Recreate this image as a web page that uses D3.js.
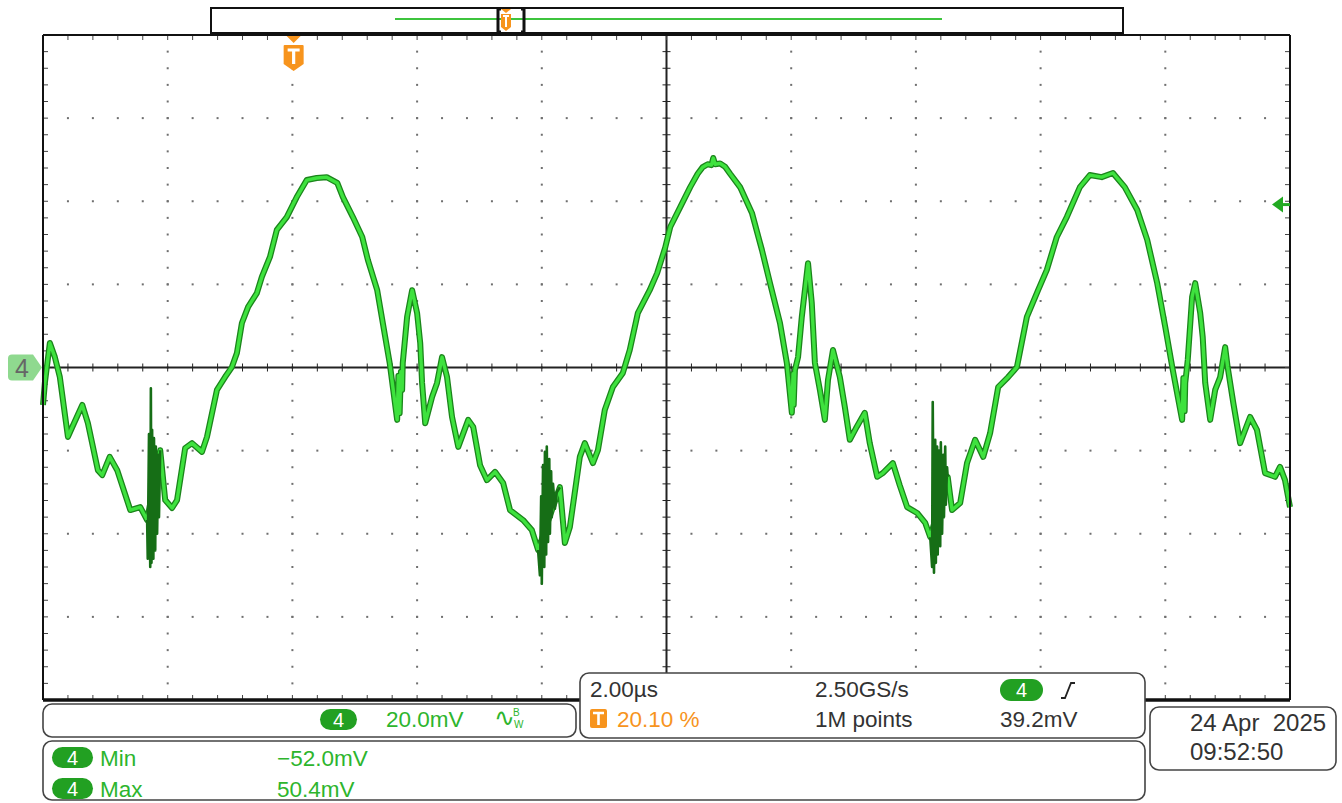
<!DOCTYPE html>
<html>
<head>
<meta charset="utf-8">
<script src="https://cdn.jsdelivr.net/npm/d3@7"></script>
<style>
  html, body { margin: 0; padding: 0; background: #fff; }
  svg { display: block; font-family: "Liberation Sans", Arial, sans-serif; }
</style>
</head>
<body>
<svg id="scope" width="1342" height="803"></svg>
<script>
// ---- Channel 4 acquisition (time in µs across the screen, amplitude in mV) ----
const traceTime = [
  0.00, 0.03, 0.11, 0.19, 0.27, 0.40, 0.47, 0.63, 0.72, 0.88, 0.95, 1.07, 1.19, 1.40, 1.56, 1.67,
  1.88, 1.96, 2.07, 2.15, 2.28, 2.39, 2.55, 2.63, 2.79, 2.92, 3.03, 3.11, 3.19, 3.29, 3.43, 3.51,
  3.64, 3.75, 3.91, 4.07, 4.23, 4.39, 4.55, 4.72, 4.81, 4.97, 5.12, 5.21, 5.36, 5.45, 5.56, 5.68,
  5.70, 5.72, 5.74, 5.76, 5.77, 5.84, 5.92, 6.00, 6.05, 6.08, 6.13, 6.24, 6.32, 6.40, 6.48, 6.56,
  6.66, 6.82, 6.90, 7.01, 7.12, 7.25, 7.38, 7.49, 7.70, 7.84, 7.94,
  8.29, 8.37, 8.45, 8.61, 8.69, 8.82, 8.90, 9.01, 9.14, 9.30, 9.41, 9.54, 9.73, 9.85, 9.98, 10.06,
  10.22, 10.38, 10.50, 10.58, 10.66, 10.72, 10.75, 10.78, 10.86, 10.94, 11.02, 11.18, 11.37, 11.53,
  11.66, 11.82, 11.93, 12.01, 12.03,
  12.04, 12.06, 12.11, 12.17, 12.27, 12.33, 12.38, 12.46, 12.54, 12.59, 12.67, 12.78, 12.86, 12.94,
  13.05, 13.18, 13.26, 13.38, 13.47, 13.63, 13.74, 13.86, 14.02, 14.15, 14.23,
  14.51, 14.58, 14.71, 14.82, 14.95, 15.08, 15.19, 15.32, 15.48, 15.62, 15.78, 15.96, 16.10, 16.26,
  16.42, 16.63, 16.79, 16.98, 17.16, 17.35, 17.55, 17.71, 17.87, 18.00, 18.12, 18.27, 18.29, 18.31,
  18.32, 18.36, 18.43, 18.48, 18.56, 18.60, 18.64, 18.72, 18.80, 18.88, 18.96, 19.00, 19.09, 19.20,
  19.36, 19.47, 19.60, 19.76, 19.84, 19.92, 20.00
];
const traceMv = [
  -9.0, -3.7, 5.9, 2.5, -2.3, -16.7, -14.3, -9.0, -13.4, -24.7, -25.9, -21.5, -24.7, -34.3, -33.6, -36.7,
  -19.9, -31.9, -33.8, -31.9, -19.4, -18.2, -20.3, -16.7, -5.4, -2.3, 0.1, 3.5, 10.7, 14.6, 17.9, 21.8,
  26.6, 33.1, 36.2, 41.0, 45.1, 45.6, 45.8, 44.4, 41.0, 36.2, 31.4, 25.9, 18.6, 10.7, 1.1, -12.6,
  -2.0, -11.0, -1.0, -5.4, 1.1, 12.2, 18.6, 13.1, 5.9, -3.7, -13.4, -7.1, -3.7, 2.5, -2.3, -11.9,
  -19.1, -12.6, -14.3, -23.5, -27.1, -25.1, -27.8, -34.3, -36.7, -39.1, -43.9,
  -28.8, -42.2, -38.4, -21.5, -18.2, -23.0, -19.9, -10.2, -4.7, -1.3, 4.2, 13.1, 18.6, 22.7, 28.9, 33.8,
  38.6, 43.4, 46.6, 48.2, 48.9, 48.7, 50.4, 48.9, 49.1, 48.3, 46.6, 43.4, 37.2, 28.3,
  20.3, 10.7, 1.1, -10.9, -1.5,
  -9.0, -0.6, 2.5, 12.2, 25.1, 15.5, 1.1, -5.4, -12.6, -3.0, 4.2, -2.3, -9.5, -17.4,
  -14.3, -10.9, -18.2, -26.3, -25.4, -23.0, -28.3, -33.6, -35.0, -37.4, -40.8,
  -26.3, -34.3, -32.6, -23.0, -17.4, -21.5, -15.8, -4.7, -2.3, 0.1, 12.2, 18.6, 23.5, 31.4,
  36.2, 43.4, 46.3, 45.8, 46.8, 43.4, 37.9, 30.7, 20.3, 9.7, -0.6, -12.6, -2.5, -10.5,
  -3.7, 1.8, 17.0, 20.3, 13.1, 7.3, -3.7, -12.6, -5.4, -2.3, 4.9, 0.1, -8.5, -18.2,
  -11.9, -15.0, -25.4, -26.3, -23.9, -27.1, -33.6
];

// Fast ringing bursts at the switching instants
const burst1Time = [1.67, 1.68, 1.70, 1.72, 1.73, 1.74, 1.75, 1.77, 1.78, 1.80, 1.81, 1.83, 1.85, 1.86, 1.88];
const burst1Mv   = [-36.7, -46, -16, -48, -5, -47, -15, -46, -17, -44, -19, -40, -21, -36, -19.9];
const burst2Time = [7.94, 7.97, 7.99, 8.00, 8.02, 8.04, 8.05, 8.07, 8.08, 8.10, 8.12, 8.13, 8.15, 8.16, 8.18, 8.21, 8.24, 8.29];
const burst2Mv   = [-43.9, -50, -31, -52.0, -23.5, -48, -20.3, -45, -19, -42, -22, -40, -25, -36, -28, -34, -30, -28.8];
const burst3Time = [14.23, 14.26, 14.27, 14.29, 14.31, 14.32, 14.34, 14.35, 14.37, 14.39, 14.40, 14.42, 14.44, 14.45, 14.47, 14.48, 14.50, 14.51];
const burst3Mv   = [-40.8, -48, -8.3, -49.4, -17.4, -47, -19, -45, -20, -43, -18, -40, -21, -36, -19, -33, -24, -26.3];

// Acquisition settings
const divisionsX = 10, divisionsY = 8;
const timePerDiv = 2.0;        // µs
const voltsPerDiv = 20.0;      // mV
const triggerPercent = 20.10;  // % of record
const triggerLevel = 39.2;     // mV
const sampleRate = "2.50GS/s";
const recordLength = "1M points";
const dateText = "24 Apr  2025";
const timeText = "09:52:50";
const channel = "4";

// ---- Layout ----
const svg = d3.select("#scope");
const plotL = 43, plotR = 1290, plotT = 35, plotB = 700;
const span = timePerDiv * divisionsX;
const x = d3.scaleLinear().domain([0, span]).range([plotL, plotR]);
const y = d3.scaleLinear().domain([-voltsPerDiv * divisionsY / 2, voltsPerDiv * divisionsY / 2]).range([plotB, plotT]);

const GREEN = "#2db52d", PILL = "#22a022", ORANGE = "#f7941d", INK = "#333";

svg.append("rect").attr("width", 1342).attr("height", 803).attr("fill", "#fff");

// ---- Graticule ----
const majorT = d3.range(0, span + 1e-9, timePerDiv);
const minorT = d3.range(0, span + 1e-9, timePerDiv / 5);
const vLo = y.domain()[0], vHi = y.domain()[1];
const majorV = d3.range(vLo, vHi + 1e-9, voltsPerDiv);
const minorV = d3.range(vLo, vHi + 1e-9, voltsPerDiv / 5);
const grid = svg.append("g").attr("fill", "#6f6f6f");

majorT.slice(1, -1).forEach(t => {
  if (Math.abs(t - span / 2) < 1e-9) return;
  minorV.slice(1, -1).forEach(v => {
    grid.append("rect").attr("x", x(t) - 1).attr("y", y(v) - 1).attr("width", 2).attr("height", 2);
  });
});
majorV.slice(1, -1).forEach(v => {
  if (Math.abs(v) < 1e-9) return;
  minorT.slice(1, -1).forEach(t => {
    grid.append("rect").attr("x", x(t) - 1).attr("y", y(v) - 1).attr("width", 2).attr("height", 2);
  });
});

// Center axes with minor ticks
const axes = svg.append("g").attr("stroke", "#222");
axes.append("line").attr("x1", plotL).attr("x2", plotR).attr("y1", y(0)).attr("y2", y(0)).attr("stroke-width", 2);
axes.append("line").attr("x1", x(span / 2)).attr("x2", x(span / 2)).attr("y1", plotT).attr("y2", plotB).attr("stroke-width", 2);
minorT.slice(1, -1).forEach(t => {
  axes.append("line").attr("x1", x(t)).attr("x2", x(t)).attr("y1", y(0) - 4).attr("y2", y(0) + 4).attr("stroke-width", 1);
});
minorV.slice(1, -1).forEach(v => {
  axes.append("line").attr("x1", x(span / 2) - 4).attr("x2", x(span / 2) + 4).attr("y1", y(v)).attr("y2", y(v)).attr("stroke-width", 1);
});

// Border ticks
const bt = svg.append("g").attr("stroke", "#444").attr("stroke-width", 1);
minorT.slice(1, -1).forEach(t => {
  bt.append("line").attr("x1", x(t)).attr("x2", x(t)).attr("y1", plotT).attr("y2", plotT + 5);
  bt.append("line").attr("x1", x(t)).attr("x2", x(t)).attr("y1", plotB - 5).attr("y2", plotB);
});
minorV.slice(1, -1).forEach(v => {
  bt.append("line").attr("x1", plotL).attr("x2", plotL + 5).attr("y1", y(v)).attr("y2", y(v));
  bt.append("line").attr("x1", plotR - 5).attr("x2", plotR).attr("y1", y(v)).attr("y2", y(v));
});

// ---- Waveform ----
const line = d3.line().x(d => x(d[0])).y(d => y(d[1]));
const trace = d3.zip(traceTime, traceMv);
const bursts = [d3.zip(burst1Time, burst1Mv), d3.zip(burst2Time, burst2Mv), d3.zip(burst3Time, burst3Mv)];

const wave = svg.append("g").attr("fill", "none").attr("stroke-linejoin", "round");
wave.append("path").attr("d", line(trace)).attr("stroke", "#1b851b").attr("stroke-width", 6);
wave.append("path").attr("d", line(trace)).attr("stroke", "#3ee23e").attr("stroke-width", 3.4);
bursts.forEach(b => {
  wave.append("path").attr("d", line(b)).attr("stroke", "#166e16").attr("stroke-width", 2.6);
});

// ---- Frame ----
const frame = svg.append("g").attr("stroke", "#111").attr("fill", "none");
frame.append("line").attr("x1", plotL).attr("x2", plotR).attr("y1", plotT).attr("y2", plotT).attr("stroke-width", 2);
frame.append("line").attr("x1", plotL).attr("x2", plotL).attr("y1", plotT).attr("y2", plotB).attr("stroke-width", 2);
frame.append("line").attr("x1", plotR).attr("x2", plotR).attr("y1", plotT).attr("y2", plotB).attr("stroke-width", 2);
frame.append("line").attr("x1", plotL).attr("x2", plotR).attr("y1", plotB).attr("y2", plotB).attr("stroke-width", 3.5);

// ---- Record overview bar ----
const ov = svg.append("g");
ov.append("rect").attr("x", 211).attr("y", 8).attr("width", 912).attr("height", 25)
  .attr("fill", "#fff").attr("stroke", "#111").attr("stroke-width", 2);
ov.append("line").attr("x1", 395).attr("x2", 942).attr("y1", 19).attr("y2", 19)
  .attr("stroke", "#3ec43e").attr("stroke-width", 2);
ov.append("path").attr("d", "M501,9 h-3 v23 h3 M521,9 h3 v23 h-3")
  .attr("fill", "none").attr("stroke", "#111").attr("stroke-width", 3);
ov.append("path").attr("d", "M501,9 h10 l-5,4 z").attr("fill", ORANGE);
ov.append("path").attr("d", "M501,14 h10 v13 l-5,4 l-5,-4 z").attr("fill", ORANGE);
ov.append("path").attr("d", "M503,16 h6 M506,16 v11").attr("stroke", "#fff").attr("stroke-width", 2);

// ---- Trigger position marker ----
const tx = x(span * triggerPercent / 100);
const tm = svg.append("g").attr("transform", `translate(${tx},0)`);
tm.append("path").attr("d", "M-7,36 h14 l-7,7 z").attr("fill", ORANGE);
tm.append("path").attr("d", "M-10,46 q0,-1 1,-1 h18 q1,0 1,1 v18 l-10,7 l-10,-7 z").attr("fill", ORANGE);
tm.append("path").attr("d", "M-6,50 h12 M0,50 v14").attr("stroke", "#fff").attr("stroke-width", 3.2);

// ---- Channel ground marker ----
const gy = y(0);
svg.append("path")
  .attr("d", `M12,${gy - 13} h21 l9,13 l-9,13 h-21 q-4,0 -4,-4 v-18 q0,-4 4,-4 z`)
  .attr("fill", "#8fd98f");
svg.append("text").attr("x", 22).attr("y", gy + 9).attr("text-anchor", "middle")
  .attr("font-size", 25).attr("fill", "#666").text(channel);

// ---- Trigger level arrow ----
const ly = y(triggerLevel);
svg.append("path").attr("d", `M1272,${ly} l11,-8 v16 z`).attr("fill", "#22aa22");
svg.append("line").attr("x1", 1282).attr("x2", 1290).attr("y1", ly).attr("y2", ly)
  .attr("stroke", "#22aa22").attr("stroke-width", 3);

// ---- Readout panels ----
function panel(px, py, w, h) {
  svg.append("rect").attr("x", px).attr("y", py).attr("width", w).attr("height", h)
    .attr("rx", 9).attr("fill", "#fff").attr("stroke", "#444").attr("stroke-width", 1.6);
}
function pill(px, py, w, h) {
  svg.append("rect").attr("x", px).attr("y", py).attr("width", w).attr("height", h)
    .attr("rx", h / 2).attr("fill", PILL);
  svg.append("text").attr("x", px + w / 2).attr("y", py + h / 2 + 7).attr("text-anchor", "middle")
    .attr("font-size", 20).attr("fill", "#fff").text(channel);
}
function label(px, py, txt, color, size) {
  return svg.append("text").attr("x", px).attr("y", py).attr("font-size", size || 22.5)
    .attr("fill", color || INK).style("white-space", "pre").text(txt);
}
const fmt1 = d3.format(".1f"), fmt2 = d3.format(".2f");

// Vertical scale panel
panel(43, 704, 533, 33);
pill(320, 709, 37, 21);
label(386, 727, fmt1(voltsPerDiv) + "mV", GREEN);
label(494, 726, "\u223F", GREEN, 25);
label(513, 716, "B", GREEN, 10);
label(514, 728, "W", GREEN, 10);

// Horizontal / trigger panel
panel(580, 673, 565, 65);
label(590, 697, fmt2(timePerDiv) + "\u00B5s");
label(815, 697, sampleRate);
pill(1000, 679, 43, 22);
svg.append("path").attr("d", "M1061,698 h4 l6,-15 h4").attr("fill", "none").attr("stroke", "#222").attr("stroke-width", 1.8);
svg.append("rect").attr("x", 590).attr("y", 709).attr("width", 17).attr("height", 19).attr("rx", 2).attr("fill", ORANGE);
svg.append("path").attr("d", "M593,713 h11 M598.5,713 v12").attr("stroke", "#fff").attr("stroke-width", 2.6);
label(617, 727, fmt2(triggerPercent) + " %", ORANGE);
label(815, 727, recordLength);
label(1000, 727, fmt1(triggerLevel) + "mV");

// Measurement panel
const allMv = traceMv.concat(burst1Mv, burst2Mv, burst3Mv);
panel(43, 741, 1102, 59);
pill(52, 747, 41, 21);
label(100, 766, "Min", GREEN);
label(277, 766, fmt1(d3.min(allMv)) + "mV", GREEN);
pill(52, 778, 41, 21);
label(100, 797, "Max", GREEN);
label(277, 797, fmt1(d3.max(allMv)) + "mV", GREEN);

// Date / time panel
panel(1150, 707, 186, 63);
label(1190, 731, dateText, INK, 24);
label(1190, 760, timeText, INK, 24);
</script>
</body>
</html>
